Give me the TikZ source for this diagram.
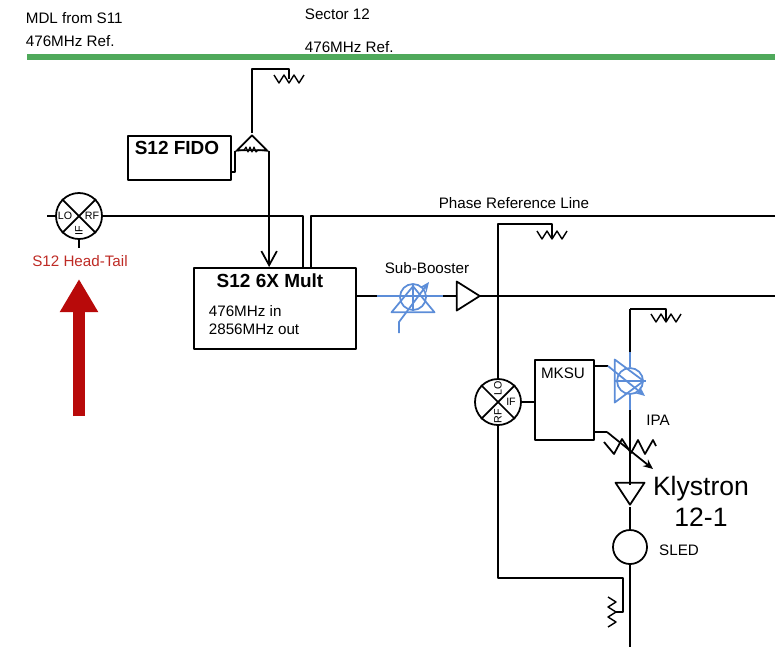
\documentclass[tikz,border=0pt]{standalone}
\usepackage{fontspec}
\setmainfont{Liberation Sans}
\usetikzlibrary{arrows.meta, shapes.geometric}
\definecolor{rfgreen}{HTML}{4FA95B}
\definecolor{rfblue}{HTML}{5C8DD8}
\definecolor{rfred}{HTML}{B80A0A}
\definecolor{rftext}{HTML}{BE2B25}

\begin{document}
\begin{tikzpicture}[
  x=0.025cm, y=-0.025cm, line width=1.25pt, line join=round,
  lbl/.style={font=\fontsize{10.8}{13}\selectfont, inner sep=0pt},
  boldlbl/.style={font=\fontsize{13.5}{16}\selectfont\bfseries, inner sep=0pt},
  mixlbl/.style={font=\fontsize{7.6}{9}\selectfont, inner sep=0pt},
  box/.style={draw, anchor=north west, inner sep=0pt},
  mixer/.style={draw, circle, minimum size=1.15cm, inner sep=0pt},
  amp/.style={draw, isosceles triangle, isosceles triangle stretches,
    inner sep=0pt, anchor=apex},
  shifter/.style={draw=rfblue, circle, minimum size=0.65cm, inner sep=0pt},
  barb/.style={-{Straight Barb[length=10pt, width=11pt]}},
  tune/.style={-{Stealth[open, length=7pt, width=6pt]}},
  resist/.pic={\draw[line width=1pt] (-15,-4) -- (-10,4) -- (-5,-4) -- (0,4) -- (5,-4)
    -- (10,4) -- (15,-4);}
]
  \useasboundingbox (0,0) rectangle (780,647);

  % Header
  \node[lbl, anchor=west] (mdl) at (25,18) {MDL from S11};
  \node[lbl, anchor=west] (mdlref) at (25,41) {476MHz Ref.};
  \node[lbl, anchor=west] (sector) at (304,14) {Sector 12};
  \node[lbl, anchor=west] (secref) at (304,47) {476MHz Ref.};
  \coordinate (refl) at (27,57);
  \coordinate (refr) at (775,57);
  \draw[rfgreen, line width=3.6pt] (refl) -- (refr);

  % Boxes
  \node[box, minimum width=2.575cm, minimum height=1.1cm] (fido) at (127,135) {};
  \node[boldlbl] (fidolbl) at (177,148) {S12 FIDO};
  \node[box, minimum width=4.05cm, minimum height=2.025cm] (mult) at (193,267) {};
  \node[boldlbl] (multlbl) at (270,281) {S12 6X Mult};
  \node[lbl, anchor=west, align=left] (multtxt) at (208,320) {476MHz in\\2856MHz out};
  \node[box, minimum width=1.475cm, minimum height=2cm] (mksu) at (534,359) {};
  \node[lbl] (mksulbl) at (563,373) {MKSU};

  % Mixers
  \node[mixer] (mixa) at (79,216) {};
  \draw (mixa.north west) -- (mixa.south east);
  \draw (mixa.north east) -- (mixa.south west);
  \node[mixlbl] (mixalo) at (65,216) {LO};
  \node[mixlbl] (mixarf) at (92,216) {RF};
  \node[mixlbl, rotate=90] (mixaif) at (79,231) {IF};
  \node[mixer] (mixb) at (498,402) {};
  \draw (mixb.north west) -- (mixb.south east);
  \draw (mixb.north east) -- (mixb.south west);
  \node[mixlbl, rotate=90] (mixblo) at (498,388) {LO};
  \node[mixlbl, rotate=90] (mixbrf) at (498,416) {RF};
  \node[mixlbl] (mixbif) at (511,402) {IF};

  % Amplifiers
  \node[amp, shape border rotate=90, minimum width=0.75cm, minimum height=0.375cm]
    (split) at (252,133) {};
  \node[amp, minimum width=0.725cm, minimum height=0.575cm] (subamp) at (482,296) {};
  \node[amp, shape border rotate=270, minimum width=0.725cm, minimum height=0.55cm]
    (kly) at (630,507) {};
  \node[draw, circle, minimum size=0.85cm, inner sep=0pt] (sled) at (630,547) {};

  % Resistors
  \pic (loada) at (289,79) {resist};
  \pic at (552,235) {resist};
  \pic at (666,318) {resist};
  \pic[rotate=90] at (612,612) {resist};
  \draw[line width=0.8pt] (split.left corner) -- (244,150) -- (246,147) -- (248,152)
    -- (250,147) -- (252,152) -- (254,147) -- (256,152) -- (258,150)
    -- (split.right corner);

  % Free ends
  \coordinate (mixain) at (47,216);
  \coordinate (mixaout) at (79,248);
  \coordinate (ratop) at (252,69);
  \coordinate (rakink) at (289,69);
  \coordinate (ratap) at (289,79);
  \coordinate (phright) at (775,216);
  \coordinate (subtip) at (478,296);
  \coordinate (subright) at (775,296);
  \coordinate (rbtap) at (552,239);
  \coordinate (rctap) at (666,322);
  \coordinate (rdtap) at (616,612);
  \coordinate (fidoout) at (230,172);
  \coordinate (bottom) at (630,647);

  % Lines
  \draw (mixain) -- (mixa);
  \draw (mixa.south) -- (mixaout);
  \draw (mixa) -- (303,216) -- (303,267);
  \draw (phright) -- (311,216) -- (311,267);
  \draw (fidoout) -| (split.left corner);
  \draw[barb] (split.right corner) -- (split.right corner |- mult.north);
  \draw (split.apex) -- (ratop) -- (rakink) -- (ratap);
  \draw (subtip) -- (subright);
  \draw (mixb.north) -- (498,224) -- (552,224) -- (rbtap);
  \draw (mixb.south) -- (498,578) -- (623,578) -- (623,612) -- (rdtap);
  \draw (mixb.east) -- (mixb.east -| mksu.west);
  \draw (kly.apex) -- (sled);
  \draw (sled) -- (bottom);

  % Sub-Booster
  \coordinate (subin) at (377,296);
  \coordinate (subout) at (443,296);
  \node[shifter] (subph) at (413,297) {};
  \node[amp, draw=rfblue, shape border rotate=90, minimum width=1.075cm,
    minimum height=0.65cm] (subtri) at (413,284) {};
  \draw (mult.east |- subin) -- (subin);
  \draw[rfblue] (subin) -- (subout);
  \draw (subout) -- (subout -| subamp.west);
  \draw[rfblue] (subtri.apex) -- (413,311);
  \coordinate (subctl) at (399,333);
  \coordinate (subarr) at (429,282);
  \draw[rfblue, tune] (subctl) -- (399,322) -- (subarr);

  % IPA
  \coordinate (ipatop) at (630,352);
  \coordinate (ipabot) at (630,410);
  \node[shifter] (ipaph) at (630,381) {};
  \node[amp, draw=rfblue, minimum width=1.075cm, minimum height=0.725cm]
    (ipatri) at (646,381) {};
  \draw (630,309) -- (666,309) -- (rctap);
  \draw (ipatop) -- (630,309);
  \draw[rfblue] (ipatop) -- (ipaph);
  \draw[rfblue] (ipaph) -- (ipabot);
  \draw[rfblue] (ipatri.left corner |- ipaph) -- (ipatri.apex);
  \draw (ipabot) -- (630,485);
  \coordinate (ipakink) at (608,366);
  \coordinate (ipaarr) at (645,396);
  \draw (mksu.east |- ipakink) -- (ipakink);
  \draw[rfblue, tune] (ipakink) -- (ipaarr);

  % Attenuator
  \draw (604,442) -- (614,454) -- (622,439) -- (631,453) -- (638,440) -- (645,454)
    -- (653,440) -- (656,446);
  \coordinate (attkink) at (607,432);
  \coordinate (attarr) at (653,469);
  \draw (mksu.east |- attkink) -- (attkink);
  \draw[tune] (attkink) -- (attarr);

  % Annotations
  \node[lbl] (phase) at (514,203) {Phase Reference Line};
  \node[lbl] (subbst) at (427,268) {Sub-Booster};
  \node[lbl] (ipa) at (658,420) {IPA};
  \node[lbl] (sledlbl) at (679,550) {SLED};
  \node[font=\fontsize{18.9}{22}\selectfont, inner sep=0pt, align=center]
    (klylbl) at (701,501) {Klystron\\12-1};
  \node[lbl, rftext] (headtail) at (80,261) {S12 Head-Tail};

  % Marker
  \coordinate (mrkbase) at (79,416);
  \coordinate (mrktip) at (79,279);
  \draw[rfred, line width=8.5pt, -{Triangle[length=33*0.7113pt, width=36*0.7113pt]}]
    (mrkbase) -- (mrktip);
\end{tikzpicture}
\end{document}
